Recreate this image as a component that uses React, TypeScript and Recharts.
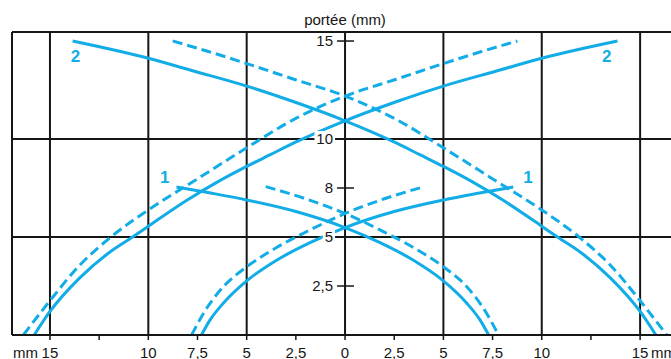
import React from "react";
import {
  LineChart,
  Line,
  XAxis,
  YAxis,
  CartesianGrid,
  ReferenceLine,
  ReferenceDot,
} from "recharts";

// curves (x = lateral mm, y = portée mm)
const solid2Up = [
  { x: -15.8, y: 0 }, { x: -15, y: 1.2 }, { x: -13.5, y: 2.9 }, { x: -12, y: 4.2 },
  { x: -10.8, y: 5.0 }, { x: -10, y: 5.55 }, { x: -8, y: 6.9 }, { x: -6.5, y: 7.8 },
  { x: -5, y: 8.6 }, { x: -3.8, y: 9.2 }, { x: -2.6, y: 9.8 }, { x: 0, y: 10.93 },
  { x: 2.6, y: 11.9 }, { x: 5, y: 12.7 }, { x: 7.7, y: 13.47 }, { x: 10, y: 14.12 },
  { x: 13.85, y: 15 },
];
const solid2Down = [
  { x: -13.85, y: 15 }, { x: -10, y: 14.12 }, { x: -7.7, y: 13.47 }, { x: -5, y: 12.7 },
  { x: -2.6, y: 11.9 }, { x: 0, y: 10.93 }, { x: 2.6, y: 9.8 }, { x: 3.8, y: 9.2 },
  { x: 5, y: 8.6 }, { x: 6.5, y: 7.8 }, { x: 8, y: 6.9 }, { x: 10, y: 5.55 },
  { x: 10.8, y: 5.0 }, { x: 12, y: 4.2 }, { x: 13.5, y: 2.9 }, { x: 15, y: 1.2 },
  { x: 15.8, y: 0 },
];
const dashed2Up = [
  { x: -16.35, y: 0 }, { x: -15, y: 1.75 }, { x: -13.5, y: 3.55 }, { x: -11.9, y: 5.0 },
  { x: -10, y: 6.38 }, { x: -7.45, y: 8.0 }, { x: -5, y: 9.55 }, { x: -2.6, y: 11.0 },
  { x: 0, y: 12.19 }, { x: 2.6, y: 13.05 }, { x: 5, y: 13.85 }, { x: 6.9, y: 14.45 },
  { x: 8.76, y: 15 },
];
const dashed2Down = [
  { x: -8.76, y: 15 }, { x: -6.9, y: 14.45 }, { x: -5, y: 13.85 }, { x: -2.6, y: 13.05 },
  { x: 0, y: 12.19 }, { x: 2.6, y: 11.0 }, { x: 5, y: 9.55 }, { x: 7.45, y: 8.0 },
  { x: 10, y: 6.38 }, { x: 11.9, y: 5.0 }, { x: 13.5, y: 3.55 }, { x: 15, y: 1.75 },
  { x: 16.35, y: 0 },
];
const solid1Up = [
  { x: -7.3, y: 0 }, { x: -6.86, y: 0.77 }, { x: -6.19, y: 1.62 }, { x: -5, y: 2.76 },
  { x: -3.5, y: 3.8 }, { x: -1.78, y: 4.71 }, { x: 0, y: 5.48 }, { x: 2.5, y: 6.3 },
  { x: 5, y: 6.89 }, { x: 6.76, y: 7.23 }, { x: 8.55, y: 7.55 },
];
const solid1Down = [
  { x: -8.57, y: 7.55 }, { x: -6.76, y: 7.23 }, { x: -5, y: 6.89 }, { x: -2.5, y: 6.3 },
  { x: 0, y: 5.48 }, { x: 1.78, y: 4.71 }, { x: 3.5, y: 3.8 }, { x: 5, y: 2.76 },
  { x: 6.19, y: 1.62 }, { x: 6.86, y: 0.77 }, { x: 7.3, y: 0 },
];
const dashed1Up = [
  { x: -7.8, y: 0 }, { x: -7.2, y: 1.1 }, { x: -6.19, y: 2.46 }, { x: -5, y: 3.48 },
  { x: -3.5, y: 4.45 }, { x: -1.78, y: 5.36 }, { x: 0, y: 6.2 }, { x: 2, y: 6.95 },
  { x: 4.03, y: 7.57 },
];
const dashed1Down = [
  { x: -4.03, y: 7.57 }, { x: -2, y: 6.95 }, { x: 0, y: 6.2 }, { x: 1.78, y: 5.36 },
  { x: 3.5, y: 4.45 }, { x: 5, y: 3.48 }, { x: 6.19, y: 2.46 }, { x: 7.2, y: 1.1 },
  { x: 7.8, y: 0 },
];

const xTicks = [-15, -12.5, -10, -7.5, -5, -2.5, 0, 2.5, 5, 7.5, 10, 12.5, 15];
const xTickLabels = ["15", "", "10", "7,5", "5", "2,5", "0", "2,5", "5", "7,5", "10", "", "15"];
const yTicks = [2.5, 5, 7.5, 10, 15];
const yTickLabels = ["2,5", "5", "8", "10", "15"];
const gridX = [-16.93, -15, -10, -5, 5, 10, 15];
const gridY = [5, 10, 15, 15.46];
const curveLabels = [
  { x: -13.7, y: 14.21, text: "2" },
  { x: 13.3, y: 14.23, text: "2" },
  { x: -9.16, y: 8.06, text: "1" },
  { x: 9.3, y: 8.06, text: "1" },
];

const BLUE = "#12ace6";
const INK = "#161616";
const FONT = "'Liberation Sans', Arial, sans-serif";

function XTick(props: any) {
  const { x, y, payload, index } = props;
  const label = xTickLabels[index] ?? "";
  return (
    <g fontFamily={FONT} fontSize={15} fill={INK}>
      <text x={x} y={y} dy={15.5} textAnchor="middle">
        {label}
      </text>
      {payload.value === -15 && (
        <text x={x - 12} y={y} dy={15.5} textAnchor="end">
          mm
        </text>
      )}
      {payload.value === 15 && (
        <text x={x + 11} y={y} dy={15.5} textAnchor="start">
          mm
        </text>
      )}
    </g>
  );
}

function yTickShape(label: string) {
  return (props: any) => {
    const { cx, cy } = props;
    const w = label.length * 8.3 + 3;
    return (
      <g>
        <rect x={cx - 11 - w} y={cy - 8} width={w + 1} height={16} fill="#fff" />
        <line x1={cx - 8} x2={cx + 9} y1={cy} y2={cy} stroke={INK} strokeWidth={1.5} />
        <text
          x={cx - 12}
          y={cy}
          dy={5.4}
          textAnchor="end"
          fontFamily={FONT}
          fontSize={15}
          fill={INK}
        >
          {label}
        </text>
      </g>
    );
  };
}

function curveLabelShape(text: string) {
  return (props: any) => (
    <text
      x={props.cx}
      y={props.cy}
      dy={6}
      textAnchor="middle"
      fontFamily={FONT}
      fontSize={17}
      fontWeight="bold"
      fill={BLUE}
    >
      {text}
    </text>
  );
}

export default function App() {
  const lineProps = {
    dataKey: "y",
    stroke: BLUE,
    strokeWidth: 3,
    dot: false,
    activeDot: false,
    type: "monotone" as const,
    isAnimationActive: false,
  };

  return (
    <div style={{ position: "absolute", left: 0, top: 0, width: 671, height: 359, background: "#fff" }}>
      <LineChart width={671} height={359} margin={{ top: 32, right: 0, bottom: 0, left: 12 }}>
        <CartesianGrid
          stroke={INK}
          strokeWidth={2}
          horizontalValues={gridY}
          verticalValues={gridX}
        />
        <XAxis
          dataKey="x"
          type="number"
          domain={[-16.93, 16.57]}
          ticks={xTicks}
          interval={0}
          height={24}
          allowDataOverflow
          tick={<XTick />}
          tickSize={5}
          tickLine={{ stroke: INK, strokeWidth: 1.5 }}
          axisLine={{ stroke: INK, strokeWidth: 2 }}
        />
        <YAxis type="number" domain={[0, 15.46]} hide allowDataOverflow />
        <ReferenceLine
          x={0}
          stroke={INK}
          strokeWidth={2}
          label={{
            value: "portée  (mm)",
            position: "top",
            offset: 7,
            fill: INK,
            fontSize: 15,
            fontFamily: FONT,
          }}
        />
        {yTicks.map((v, i) => (
          <ReferenceDot key={"yt" + v} x={0} y={v} r={0} shape={yTickShape(yTickLabels[i])} />
        ))}
        <Line {...lineProps} data={solid2Up} />
        <Line {...lineProps} data={solid2Down} />
        <Line {...lineProps} data={dashed2Up} strokeDasharray="10 5" />
        <Line {...lineProps} data={dashed2Down} strokeDasharray="10 5" />
        <Line {...lineProps} data={solid1Up} />
        <Line {...lineProps} data={solid1Down} />
        <Line {...lineProps} data={dashed1Up} strokeDasharray="10 5" />
        <Line {...lineProps} data={dashed1Down} strokeDasharray="10 5" />
        {curveLabels.map((c, i) => (
          <ReferenceDot key={"cl" + i} x={c.x} y={c.y} r={0} shape={curveLabelShape(c.text)} />
        ))}
      </LineChart>
    </div>
  );
}
